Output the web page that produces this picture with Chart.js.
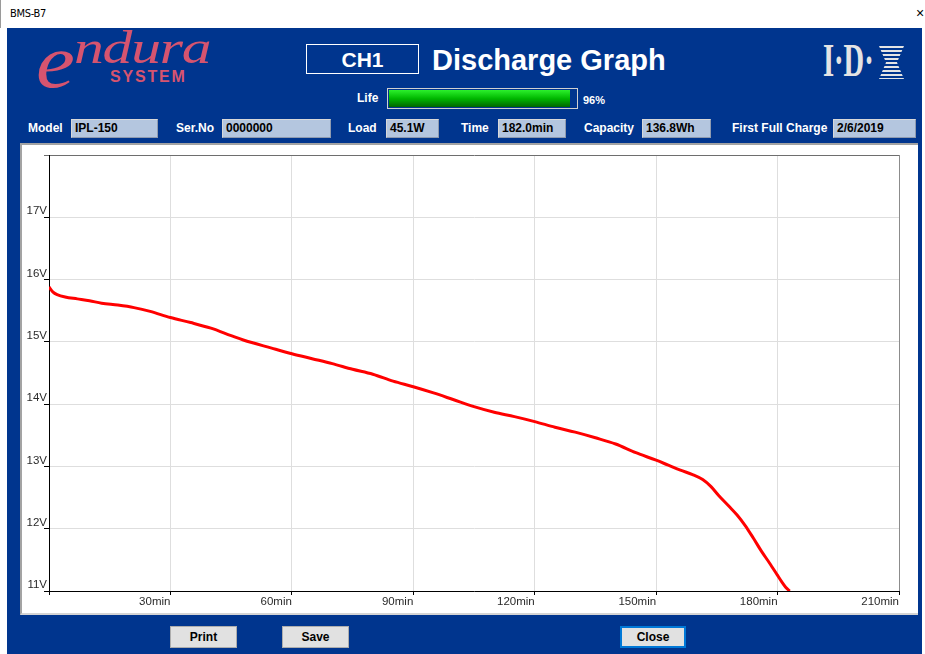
<!DOCTYPE html>
<html>
<head>
<meta charset="utf-8">
<title>BMS-B7</title>
<script src="https://cdn.jsdelivr.net/npm/chart.js@4.4.0/dist/chart.umd.min.js"></script>
<style>
html, body { margin: 0; padding: 0; }
body { width: 925px; height: 654px; position: relative; overflow: hidden; background: #fff; font-family: "Liberation Sans", Arial, sans-serif; }
div, span, canvas { position: absolute; box-sizing: border-box; }
.lbl { color: #fff; font-weight: bold; font-size: 12px; line-height: 14px; top: 121px; white-space: nowrap; }
.fld { top: 119px; height: 19px; background: #b4c6df; border: 1px solid #8f9bb0; border-top-color: #d8d8d8; border-left-color: #d8d8d8; color: #000; font-weight: bold; font-size: 12px; line-height: 17px; padding-left: 3px; white-space: nowrap; }
.btn { top: 626px; height: 22px; background: #e1e1e1; border: 1px solid #adadad; color: #000; font-weight: bold; font-size: 12px; line-height: 20px; text-align: center; }
</style>
</head>
<body>
<div style="left:0;top:0;width:925px;height:28px;background:#fff;border-left:1px solid #9a9a9a;"></div>
<div style="left:10px;top:7px;font-size:11px;color:#000;font-family:'DejaVu Sans Condensed','Liberation Sans',sans-serif;letter-spacing:-0.3px;">BMS-B7</div>
<div style="left:916px;top:5px;font-size:14px;color:#000;">×</div>

<div style="left:7px;top:28px;width:915px;height:626px;background:#00358e;"></div>

<!-- endura logo -->
<div style="left:36px;top:23px;font-family:'Liberation Serif',serif;font-style:italic;font-size:76px;line-height:76px;color:#d6546f;transform:scaleX(1.15);transform-origin:left top;">e</div>
<div style="left:74px;top:24px;font-family:'Liberation Serif',serif;font-style:italic;font-size:47px;line-height:46px;color:#d6546f;transform:scaleX(1.27);transform-origin:left top;letter-spacing:-1px;">ndura</div>
<div style="left:110px;top:68px;font-size:16px;line-height:18px;font-weight:bold;color:#d6546f;letter-spacing:1.8px;">SYSTEM</div>

<!-- title -->
<div style="left:306px;top:44px;width:113px;height:30px;border:1px solid #fff;color:#fff;font-weight:bold;font-size:21px;line-height:30px;text-align:center;">CH1</div>
<div style="left:432px;top:43px;color:#fff;font-weight:bold;font-size:29px;line-height:34px;white-space:nowrap;">Discharge Graph</div>

<!-- IDX logo -->
<div style="left:823px;top:36px;font-family:'Liberation Serif',serif;font-weight:bold;font-size:46px;line-height:50px;color:#e4e4e4;transform:scaleX(0.62);transform-origin:left top;white-space:nowrap;">I·D·</div>
<div style="left:879px;top:46px;width:25px;height:33px;background:repeating-linear-gradient(#e4e4e4 0 2px, transparent 2px 4px);clip-path:polygon(0 0,100% 0,72% 50%,100% 100%,0 100%,28% 50%);"></div>

<!-- life bar -->
<div class="lbl" style="left:357px;top:91px;">Life</div>
<div style="left:387px;top:88px;width:191px;height:21px;border:1px solid #d0d0d0;"></div>
<div style="left:389px;top:90px;width:181px;height:17px;background:linear-gradient(#2cf02c, #00b800 50%, #006400);"></div>
<div class="lbl" style="left:583px;top:93px;font-size:11px;">96%</div>

<!-- info row -->
<div class="lbl" style="left:28px;">Model</div>
<div class="fld" style="left:71px;width:87px;">IPL-150</div>
<div class="lbl" style="left:176px;">Ser.No</div>
<div class="fld" style="left:222px;width:109px;">0000000</div>
<div class="lbl" style="left:348px;">Load</div>
<div class="fld" style="left:386px;width:53px;">45.1W</div>
<div class="lbl" style="left:461px;">Time</div>
<div class="fld" style="left:498px;width:68px;">182.0min</div>
<div class="lbl" style="left:584px;">Capacity</div>
<div class="fld" style="left:642px;width:69px;">136.8Wh</div>
<div class="lbl" style="left:732px;">First Full Charge</div>
<div class="fld" style="left:833px;width:83px;">2/6/2019</div>

<!-- chart panel -->
<div style="left:20px;top:143px;width:898px;height:472px;background:#fff;border-left:2px solid #a3a3a3;border-top:2px solid #a3a3a3;border-bottom:2px solid #d4d4d4;"></div>
<canvas id="chart" width="895" height="468" style="left:22px;top:145px;"></canvas>

<!-- buttons -->
<div class="btn" style="left:170px;width:67px;">Print</div>
<div class="btn" style="left:282px;width:67px;">Save</div>
<div class="btn" style="left:620px;width:66px;border:2px solid #0078d7;line-height:18px;">Close</div>

<script>
'use strict';

// discharge curve
const timeMin = [0, 1, 2, 4, 7, 10, 13, 17, 21, 25, 30, 35, 40, 45, 48, 55, 60, 65, 70, 75,
  80, 85, 90, 95, 100, 105, 110, 115, 120, 125, 130, 135, 140, 145, 150, 153, 156, 159, 161.5,
  163.5, 165.5, 168, 170, 172, 174, 176, 178, 180, 181, 182, 183];
const voltage = [15.88, 15.80, 15.76, 15.72, 15.69, 15.66, 15.62, 15.59, 15.55, 15.49, 15.39,
  15.31, 15.22, 15.10, 15.03, 14.90, 14.81, 14.73, 14.65, 14.56, 14.48, 14.37, 14.28, 14.18,
  14.07, 13.96, 13.87, 13.80, 13.72, 13.63, 13.55, 13.46, 13.36, 13.22, 13.10, 13.02, 12.94,
  12.87, 12.79, 12.68, 12.53, 12.36, 12.22, 12.05, 11.85, 11.64, 11.45, 11.25, 11.15, 11.06, 11.0];

const xTickValues = [0, 30, 60, 90, 120, 150, 180, 210];
const xTickLabels = ['', '30min', '60min', '90min', '120min', '150min', '180min', '210min'];
const yTickValues = [11, 12, 13, 14, 15, 16, 17, 18];
const yTickLabels = ['11V', '12V', '13V', '14V', '15V', '16V', '17V', ''];

let canvasElem = document.getElementById('chart');

function renderChart() {
  const points = timeMin.map((t, i) => ({ x: t, y: voltage[i] }));
  const tickFont = { family: 'Liberation Sans', size: 11.5 };

  const chartData = {
    datasets: [{
      data: points,
      borderColor: '#ff0000',
      borderWidth: 3,
      pointRadius: 0,
      cubicInterpolationMode: 'monotone',
      fill: false
    }]
  };

  const config = {
    type: 'line',
    data: chartData,
    options: {
      responsive: false,
      animation: false,
      layout: { padding: { top: 10, right: 18, left: 0, bottom: 0 } },
      plugins: { legend: { display: false }, tooltip: { enabled: false } },
      scales: {
        x: {
          type: 'linear',
          min: 0,
          max: 210,
          afterBuildTicks: s => { s.ticks = xTickValues.map(v => ({ value: v })); },
          afterFit: s => { s.height = 22; },
          ticks: {
            callback: (v, i) => xTickLabels[i],
            align: 'end',
            padding: 0,
            maxRotation: 0,
            autoSkip: false,
            color: '#2a2a2a',
            font: tickFont
          },
          grid: {
            color: c => (c.tick && c.tick.value === 210 ? '#8c8c8c' : '#dedede'),
            tickColor: '#000',
            tickLength: 4
          },
          border: { color: '#000', width: 1 }
        },
        y: {
          min: 11,
          max: 18,
          afterBuildTicks: s => { s.ticks = yTickValues.map(v => ({ value: v })); },
          afterFit: s => { s.width = 27; },
          ticks: {
            callback: (v, i) => yTickLabels[i],
            padding: -3,
            labelOffset: -6,
            autoSkip: false,
            color: '#2a2a2a',
            font: tickFont
          },
          grid: {
            color: c => (c.tick && c.tick.value === 18 ? '#6e6e6e' : '#dedede'),
            tickColor: c => (c.tick && c.tick.value === 18 ? '#6e6e6e' : '#000'),
            tickLength: 5
          },
          border: { color: '#000', width: 1 }
        }
      }
    }
  };

  new Chart(canvasElem, config);
}

renderChart();
</script>
</body>
</html>
